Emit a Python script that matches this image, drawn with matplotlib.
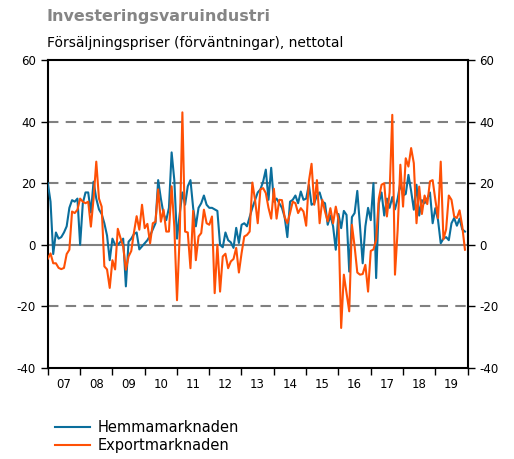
import numpy as np
import pandas as pd
import matplotlib
matplotlib.use("Agg")
import matplotlib.pyplot as plt

# Monthly data Jan 2007 - Dec 2019
hemma = [20, 14, -3, 4, 2, 2.5, 4, 6, 12, 14.5, 14, 15,
         0, 13.5, 17, 17, 10.5, 20.5, 15, 11.5, 10, 7, 3, -5,
         2, 0, 0, 1, 2, -13.5, 1, 2, 3.5, 4, -1.5, -0.5,
         0.5, 1.5, 3, 5, 7, 21, 15, 10, 8, 12, 30, 21,
         2, 10, 17, 13, 19, 21, 12, 6, 12, 13.5, 16, 13,
         12, 12, 11.5, 11, 0, -0.8, 4, 1.5, 0.8, -1, 5.5, 0.6,
         6.5, 7, 6, 9, 12, 14.5, 17, 18, 20.5, 24.4, 14.6, 25,
         14, 15, 13.5, 12, 9, 2.5, 14, 14.6, 16, 13.5, 17.3, 14.6,
         15, 19.5, 13, 13.5, 16, 17, 14, 13.5, 6.5, 9.5, 6, -1.6,
         10, 5.4, 11, 9.7, -8.7, 9, 10.3, 17.5, 6, -6, 6, 12,
         8, 20, -10.8, 13.5, 17, 9.5, 15, 12, 15.5, 11.5, 15, 20,
         16, 16.5, 22.7, 17.5, 11.4, 19.5, 9.5, 14.5, 13.5, 15, 17, 7,
         11.9, 8, 0.5, 2, 2.5, 1.5, 7, 8.7, 6.2, 8.5, 5, 4.3]

export = [-4.5, -2.8, -6, -6, -7.5, -7.9, -7.5, -3, -1.6, 10.8, 10.3, 11.4,
          15, 14, 13.5, 14, 5.9, 15, 27, 15, 12.4, -7, -8, -14,
          -5, -8, 5.2, 2.2, -0.5, -8.1, -3.8, -2, 4, 9.3, 4.9, 13,
          5.4, 6.8, 0.5, 7, 7.5, 18, 7.5, 11.4, 4.3, 4.3, 19, 5.9,
          -18, 3, 43, 4.3, 4, -7.6, 11, -5, 2.7, 3.8, 11.4, 7,
          6.5, 9.2, -15.7, 0, -15.2, -3.8, -2.9, -7.6, -5.4, -4.6, -1, -9,
          -2.7, 2.7, 3.2, 4.3, 20.2, 14.6, 7, 18, 18.4, 16.8, 12, 8.5,
          18.2, 8.5, 14.6, 14.5, 9, 7, 10.3, 14, 13.5, 10.3, 11.9, 10.8,
          6.2, 20.6, 26.3, 13, 21, 7, 14.6, 10.8, 7.6, 11.9, 7, 12.4,
          8.1, -27, -9.7, -15.7, -21.6, 6.5, -0.5, -9, -9.7, -9.5, -6.5, -15.2,
          -2, -1.5, 1.6, 15, 19.5, 20, 9.2, 17, 42.2, -9.7, 4.9, 26,
          12.4, 28.1, 25.4, 31.4, 26.5, 7, 18.9, 10, 16, 13.2, 20.6, 21,
          14.6, 8.7, 27, 1.8, 5, 16, 14.6, 9.2, 8.7, 11.2, 6, -1.6]

series_names = ["Hemmamarknaden", "Exportmarknaden"]
year_labels = ["07", "08", "09", "10", "11", "12", "13", "14", "15", "16", "17", "18", "19"]
y_ticks = [-40, -20, 0, 20, 40, 60]
title = "Investeringsvaruindustri"
subtitle = "Försäljningspriser (förväntningar), nettotal"

plt.rcParams['font.family'] = ['DejaVu Sans']

n = len(hemma)
t = 2007 + (np.arange(n) + 0.05) / 12.0

fig = plt.figure(figsize=(5.14, 4.59), dpi=100)
ax = fig.add_axes([47.7 / 514, 1 - 368 / 459, (467.5 - 47.7) / 514, 308 / 459])

grid_color = "#808080"
for v in y_ticks:
    if v == 0:
        ax.axhline(v, color=grid_color, lw=1.5, zorder=1)
    elif v in (-20, 20, 40):
        ax.axhline(v, color=grid_color, lw=1.5, ls=(0, (5, 3.5)), zorder=1)

blue = "#0A6E9C"
orange = "#FF5005"
ax.plot(t, hemma, color=blue, lw=1.5, zorder=3, label=series_names[0])
ax.plot(t, export, color=orange, lw=1.5, zorder=4, label=series_names[1])

ax.set_xlim(2007, 2020)
ax.set_ylim(-40, 60)
ax.set_yticks(y_ticks)
ax.set_yticklabels([str(v) for v in y_ticks])
ax.tick_params(axis='y', which='both', direction='out', length=5, width=1,
               labelsize=8.5, left=True, right=True, labelleft=True, labelright=True)
years = np.arange(2007, 2021)
ax.set_xticks(years)
ax.set_xticklabels([])
ax.set_xticks(np.arange(2007, 2020) + 0.5, minor=True)
ax.set_xticklabels(year_labels, minor=True)
ax.tick_params(axis='x', which='major', direction='out', length=5, width=1)
ax.tick_params(axis='x', which='minor', length=0, labelsize=8.5, pad=7)
for s in ax.spines.values():
    s.set_linewidth(1.5)
    s.set_color("black")

fig.text(47 / 514, 1 - 17 / 459, title, fontsize=11.5, fontweight='bold',
         color="#858585", va='center', ha='left')
fig.text(47 / 514, 1 - 43 / 459, subtitle, fontsize=10, color="black",
         va='center', ha='left')

handles, labels = ax.get_legend_handles_labels()
fig.legend(handles, labels, loc='upper left', bbox_to_anchor=(49 / 514, 1 - 414 / 459),
           frameon=False, fontsize=10.5, handlelength=2.4, handletextpad=0.55,
           labelspacing=0.2, borderaxespad=0)

fig.savefig("out.png", dpi=100)
